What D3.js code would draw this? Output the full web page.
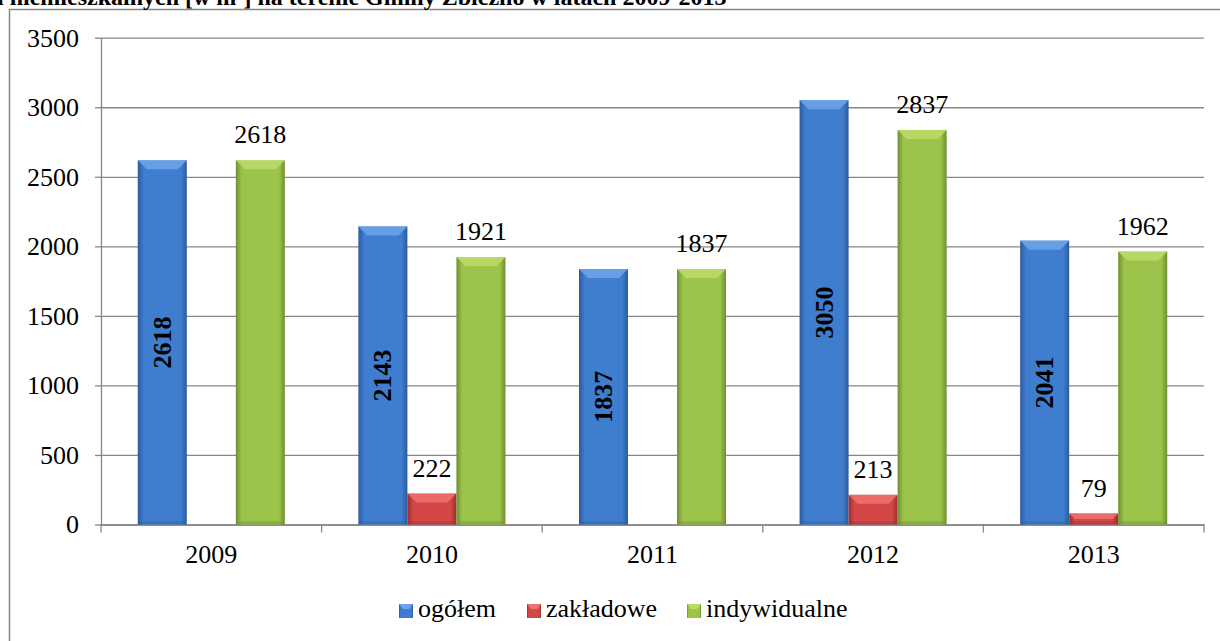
<!DOCTYPE html>
<html>
<head>
<meta charset="utf-8">
<script src="https://cdn.jsdelivr.net/npm/d3@7"></script>
<style>
  body { margin: 0; background: #fff; }
  svg { display: block; }
</style>
</head>
<body>
<svg id="chart" width="1220" height="641"></svg>
<script>
'use strict' ;

const years = [ "2009", "2010", "2011", "2012", "2013" ] ;
const series = [ "ogółem", "zakładowe", "indywidualne" ] ;
const ogolem = [ 2618, 2143, 1837, 3050, 2041 ] ;
const zakladowe = [ null, 222, null, 213, 79 ] ;
const indywidualne = [ 2618, 1921, 1837, 2837, 1962 ] ;
const yTicks = [ 0, 500, 1000, 1500, 2000, 2500, 3000, 3500 ] ;
const title = "i niemieszkalnych [w m²] na terenie Gminy Zbiczno w latach 2009-2013" ;

let geom = {
	plot: { left: 101, right: 1204, top: 37.7, bottom: 524.5 },
	fontSize: 26
} ;
const serifFont = 'Liberation Serif' ;

let aes = {
	"ogółem": { base: '#3f7dcf', light: '#6ea4ea', dark: '#2c5a9c' },
	"zakładowe": { base: '#d44747', light: '#ee7272', dark: '#9a2e2e' },
	"indywidualne": { base: '#9cc44a', light: '#bcdc68', dark: '#6f8f30' }
} ;

let svg = d3.select( '#chart' ) ;
let defs = svg.append( 'defs' ) ;

// horizontal shading for each series
series.forEach( ( s, i ) => {
	let g = defs.append( 'linearGradient' )
		.attr( 'id', 'grad' + i )
		.attr( 'x1', 0 ).attr( 'x2', 1 ).attr( 'y1', 0 ).attr( 'y2', 0 ) ;
	g.append( 'stop' ).attr( 'offset', '0%' ).attr( 'stop-color', aes[s].dark ) ;
	g.append( 'stop' ).attr( 'offset', '12%' ).attr( 'stop-color', aes[s].base ) ;
	g.append( 'stop' ).attr( 'offset', '88%' ).attr( 'stop-color', aes[s].base ) ;
	g.append( 'stop' ).attr( 'offset', '100%' ).attr( 'stop-color', aes[s].dark ) ;
} ) ;

// outer frame (extends past the window)
svg.append( 'rect' )
	.attr( 'x', 9.5 ).attr( 'y', 9.5 )
	.attr( 'width', 1300 ).attr( 'height', 700 )
	.attr( 'fill', 'none' )
	.attr( 'stroke', '#878787' )
	.attr( 'stroke-width', 1.5 ) ;

// title, cut off at the top as in the source
svg.append( 'text' )
	.attr( 'x', -3 )
	.attr( 'y', 5 )
	.attr( 'font-family', serifFont )
	.attr( 'font-size', '24px' )
	.attr( 'font-weight', 'bold' )
	.text( title ) ;

let x0 = d3.scaleBand()
	.domain( years )
	.range( [ geom.plot.left, geom.plot.right ] ) ;
let x1 = d3.scaleBand()
	.domain( series )
	.range( [ 0, x0.bandwidth() ] )
	.paddingOuter( 0.75 ) ;
let y = d3.scaleLinear()
	.domain( [ 0, 3500 ] )
	.range( [ geom.plot.bottom, geom.plot.top ] ) ;

// y axis with gridlines
let yAxis = svg.append( 'g' )
	.attr( 'class', 'y axis' )
	.attr( 'transform', 'translate(' + geom.plot.left + ',0)' )
	.call( d3.axisLeft( y )
		.tickValues( yTicks )
		.tickFormat( d3.format( 'd' ) )
		.tickSizeInner( -( geom.plot.right - geom.plot.left ) )
		.tickSizeOuter( 0 )
		.tickPadding( 22 ) ) ;
yAxis.attr( 'font-family', serifFont ).attr( 'font-size', geom.fontSize ) ;
yAxis.select( '.domain' ).attr( 'stroke', '#878787' ).attr( 'stroke-width', 1.3 ) ;
yAxis.selectAll( '.tick line' ).attr( 'stroke', '#878787' ).attr( 'stroke-width', 1.3 ) ;
yAxis.selectAll( '.tick' ).append( 'line' )
	.attr( 'x1', -6 ).attr( 'x2', 0 )
	.attr( 'stroke', '#878787' ).attr( 'stroke-width', 1.3 ) ;
yAxis.selectAll( '.tick text' ).attr( 'fill', '#000' ) ;

// x axis
let xAxis = svg.append( 'g' )
	.attr( 'class', 'x axis' )
	.attr( 'transform', 'translate(0,' + geom.plot.bottom + ')' )
	.call( d3.axisBottom( x0 ).tickSize( 0 ).tickPadding( 20 ) ) ;
xAxis.attr( 'font-family', serifFont ).attr( 'font-size', geom.fontSize ) ;
xAxis.select( '.domain' ).attr( 'stroke', '#878787' ).attr( 'stroke-width', 1.3 ) ;
xAxis.selectAll( '.tick text' ).attr( 'fill', '#000' ) ;
xAxis.selectAll( 'line.cat' )
	.data( years.concat( [ null ] ) )
	.enter()
	.append( 'line' )
	.attr( 'class', 'cat' )
	.attr( 'x1', ( d, i ) => geom.plot.left + i * x0.step() )
	.attr( 'x2', ( d, i ) => geom.plot.left + i * x0.step() )
	.attr( 'y1', 0 ).attr( 'y2', 8 )
	.attr( 'stroke', '#878787' ).attr( 'stroke-width', 1.3 ) ;

// bars
let values = { "ogółem": ogolem, "zakładowe": zakladowe, "indywidualne": indywidualne } ;
let bars = [] ;
series.forEach( ( s, si ) => {
	years.forEach( ( yr, i ) => {
		let v = values[s][i] ;
		if( v === null ) return ;
		bars.push( { series: s, si: si, year: yr, value: v } ) ;
	} ) ;
} ) ;

let barG = svg.append( 'g' ).attr( 'class', 'bars' ) ;
let bar = barG.selectAll( 'g.bar' )
	.data( bars )
	.enter()
	.append( 'g' )
	.attr( 'class', 'bar' )
	.attr( 'transform', d => 'translate(' + ( x0( d.year ) + x1( d.series ) ) + ',0)' ) ;

let bw = x1.bandwidth() ;
bar.append( 'rect' )
	.attr( 'x', 0 )
	.attr( 'y', d => y( d.value ) )
	.attr( 'width', bw )
	.attr( 'height', d => y( 0 ) - y( d.value ) )
	.attr( 'fill', d => 'url(#grad' + d.si + ')' ) ;
// top bevel
bar.append( 'path' )
	.attr( 'd', d => {
		let t = y( d.value ), h = Math.min( 9, ( y( 0 ) - t ) / 2 ) ;
		return 'M0,' + t + 'L' + bw + ',' + t + 'L' + ( bw - h ) + ',' + ( t + h ) + 'L' + h + ',' + ( t + h ) + 'Z' ;
	} )
	.attr( 'fill', d => aes[d.series].light )
	.attr( 'opacity', 0.85 ) ;
// bottom bevel
bar.append( 'path' )
	.attr( 'd', d => {
		let b = y( 0 ), h = Math.min( 3, ( b - y( d.value ) ) / 2 ) ;
		return 'M0,' + b + 'L' + bw + ',' + b + 'L' + ( bw - h ) + ',' + ( b - h ) + 'L' + h + ',' + ( b - h ) + 'Z' ;
	} )
	.attr( 'fill', d => aes[d.series].dark )
	.attr( 'opacity', 0.4 ) ;

// labels: ogółem inside, rotated and bold
bar.filter( d => d.series === "ogółem" )
	.append( 'text' )
	.attr( 'transform', d => 'translate(' + ( bw / 2 ) + ',' + ( ( y( d.value ) + y( 0 ) ) / 2 ) + ') rotate(-90)' )
	.attr( 'text-anchor', 'middle' )
	.attr( 'dy', '0.33em' )
	.attr( 'font-family', serifFont )
	.attr( 'font-size', geom.fontSize + 'px' )
	.attr( 'font-weight', 'bold' )
	.text( d => d.value ) ;

bar.filter( d => d.series !== "ogółem" )
	.append( 'text' )
	.attr( 'x', bw / 2 )
	.attr( 'y', d => y( d.value ) - 17 )
	.attr( 'text-anchor', 'middle' )
	.attr( 'font-family', serifFont )
	.attr( 'font-weight', 'normal' )
	.attr( 'font-size', geom.fontSize + 'px' )
	.text( d => d.value ) ;

// legend
let legendX = [ 399, 527, 687 ] ;
let legend = svg.append( 'g' ).attr( 'class', 'legend' )
	.selectAll( 'g' )
	.data( series )
	.enter()
	.append( 'g' )
	.attr( 'transform', ( d, i ) => 'translate(' + legendX[i] + ',604)' ) ;
legend.append( 'rect' )
	.attr( 'width', 14 ).attr( 'height', 14 )
	.attr( 'fill', ( d, i ) => 'url(#grad' + i + ')' ) ;
legend.append( 'path' )
	.attr( 'd', 'M0,0L14,0L10,5L4,5Z' )
	.attr( 'fill', d => aes[d].light ) ;
legend.append( 'text' )
	.attr( 'x', 19 )
	.attr( 'y', 13 )
	.attr( 'font-family', serifFont )
	.attr( 'font-weight', 'normal' )
	.attr( 'font-size', geom.fontSize + 'px' )
	.text( d => d ) ;
</script>
</body>
</html>
